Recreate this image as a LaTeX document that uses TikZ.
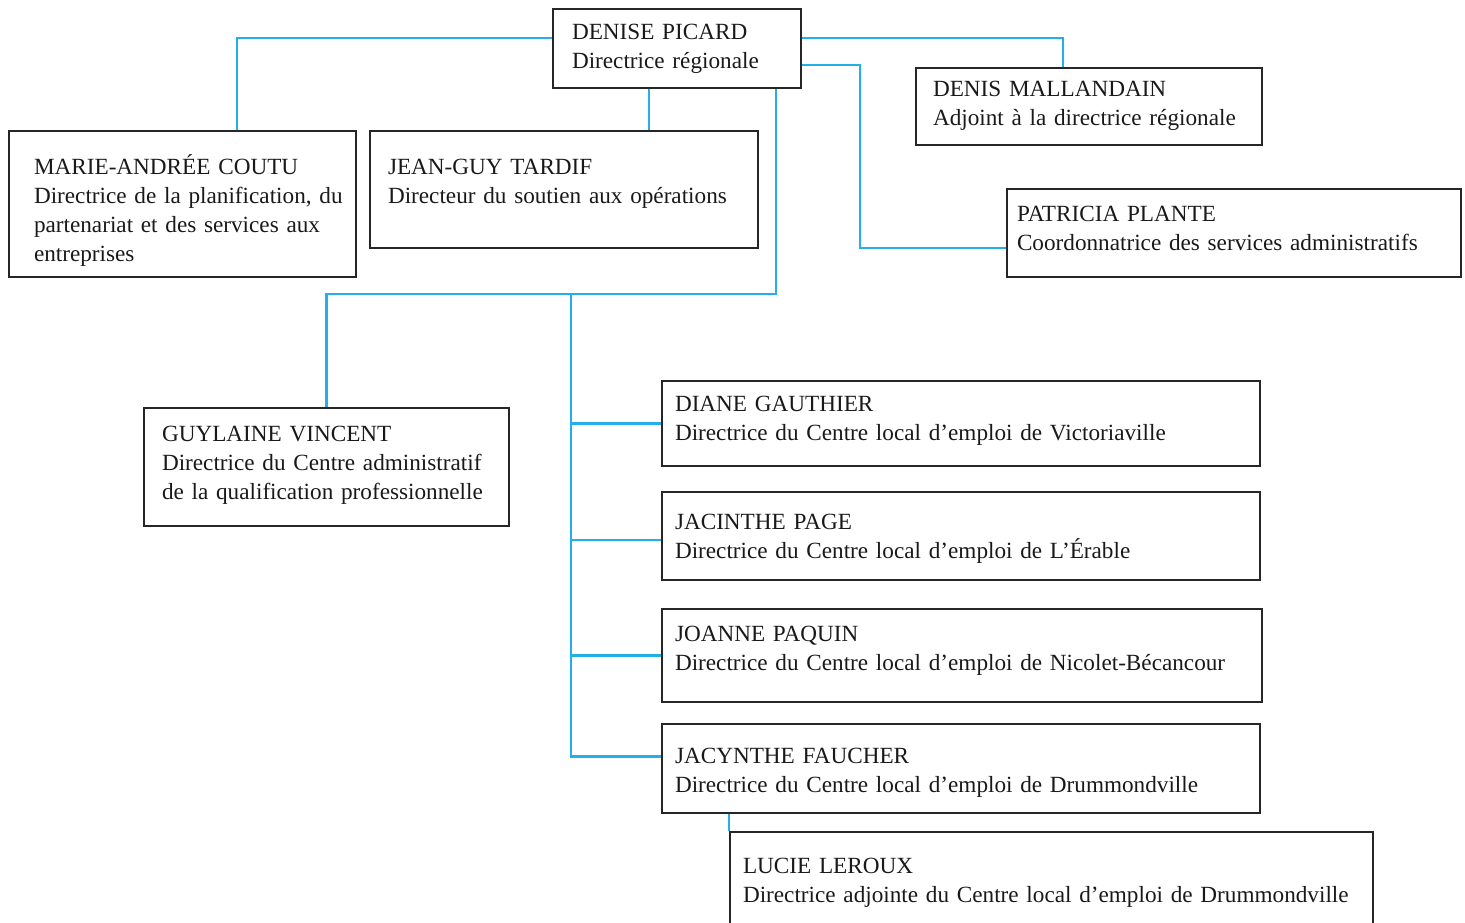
\documentclass[tikz,border=0pt]{standalone}
\usepackage{fontspec}
\setmainfont{Liberation Serif}
\definecolor{lienbleu}{RGB}{35,176,232}
\tikzset{
  poste/.style={draw=black!85, line width=1pt, anchor=north west, align=left, inner ysep=0pt,
    text=black!90, font=\fontsize{11.6}{14.5}\selectfont},
  lien/.style={draw=lienbleu, line width=1.1pt}
}
\begin{document}
\begin{tikzpicture}[x=0.5pt, y=-0.5pt]
\clip (0,0) rectangle (1465,922);
\node[poste, inner xsep=9.5pt, text width=105pt, text height=15pt, text depth=24.5pt] (P_0_0) at (552,8) {DENISE PICARD\\Directrice régionale};
\node[poste, inner xsep=12.5pt, text width=148.5pt, text height=21.5pt, text depth=51.5pt] (P_1_0) at (8,130) {MARIE-ANDRÉE COUTU\\\mbox{Directrice de la planification, du}\\partenariat et des services aux\\entreprises};
\draw[lien] ([yshift=-15pt]P_0_0.north west) -| ([xshift=27.25pt]P_1_0.north);
\node[poste, inner xsep=9pt, text width=176pt, text height=21.5pt, text depth=37pt] (P_1_1) at (369,130) {JEAN-GUY TARDIF\\Directeur du soutien aux opérations};
\draw[lien] ([xshift=-14pt]P_0_0.south) -- ([xshift=-14pt]P_0_0.south |- P_1_1.north);
\node[poste, inner xsep=8.5pt, text width=156pt, text height=14pt, text depth=24.5pt] (P_1_2) at (915,67) {DENIS MALLANDAIN\\Adjoint à la directrice régionale};
\draw[lien] ([yshift=-15pt]P_0_0.north east) -| ([xshift=-13pt]P_1_2.north);
\node[poste, inner xsep=5pt, text width=217pt, text height=16pt, text depth=28pt] (P_1_3) at (1006,188) {PATRICIA PLANTE\\\mbox{Coordonnatrice des services administratifs}};
\draw[lien] ([yshift=-28.5pt]P_0_0.north east) -- ++(29pt,0) |- ([yshift=-7.5pt]P_1_3.west);
\coordinate (T_2) at (571,294);
\node[poste, inner xsep=9pt, text width=164.5pt, text height=16.5pt, text depth=42.5pt] (P_2_0) at (143,407) {GUYLAINE VINCENT\\\mbox{Directrice du Centre administratif}\\\mbox{de la qualification professionnelle}};
\draw[lien] ([xshift=49.5pt]P_0_0.south) |- (T_2) -| (P_2_0.north);
\node[poste, inner xsep=6.5pt, text width=286pt, text height=15pt, text depth=27.5pt] (P_2_1) at (661,380) {DIANE GAUTHIER\\Directrice du Centre local d’emploi de Victoriaville};
\draw[lien] (T_2) |- (P_2_1.west);
\node[poste, inner xsep=6.5pt, text width=286pt, text height=18.5pt, text depth=25.5pt] (P_2_2) at (661,491) {JACINTHE PAGE\\Directrice du Centre local d’emploi de L’Érable};
\draw[lien] (T_2) |- ([yshift=-2pt]P_2_2.west);
\node[poste, inner xsep=6.5pt, text width=287pt, text height=16pt, text depth=30.5pt] (P_2_3) at (661,608) {JOANNE PAQUIN\\Directrice du Centre local d’emploi de Nicolet-Bécancour};
\draw[lien] (T_2) |- (P_2_3.west);
\node[poste, inner xsep=6.5pt, text width=286pt, text height=19.5pt, text depth=25pt] (P_2_4) at (661,723) {JACYNTHE FAUCHER\\Directrice du Centre local d’emploi de Drummondville};
\draw[lien] (T_2) |- ([yshift=6pt]P_2_4.west);
\node[poste, inner xsep=6.5pt, text width=308.5pt, text height=20.5pt, text depth=39pt] (P_3_0) at (729,831) {LUCIE LEROUX\\\mbox{Directrice adjointe du Centre local d’emploi de Drummondville}};
\draw[lien] (P_3_0.north west) -- (P_3_0.north west |- P_2_4.south);
\end{tikzpicture}
\end{document}
